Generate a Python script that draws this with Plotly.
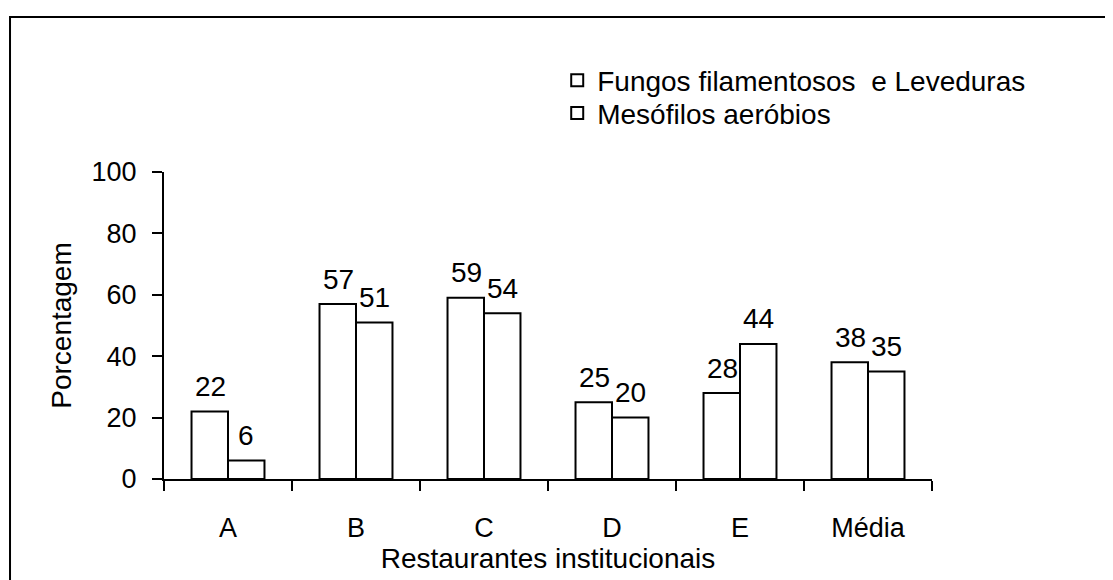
import plotly.graph_objects as go

# data
categories = ["A", "B", "C", "D", "E", "Média"]
fungos = [22, 57, 59, 25, 28, 38]
mesofilos = [6, 51, 54, 20, 44, 35]
series_names = ["Fungos filamentosos\u00a0 e Leveduras", "Mesófilos aeróbios"]
y_ticks = [0, 20, 40, 60, 80, 100]

FONT = "Liberation Sans, Arial, sans-serif"
FS = 28
BAR_OFFSET = 18  # half bar width in px, for label placement

fig = go.Figure()
for name, vals, leg in zip(series_names, [fungos, mesofilos], ["legend", "legend2"]):
    fig.add_trace(go.Bar(
        x=categories, y=vals, name=name, legend=leg,
        marker=dict(color="white", line=dict(color="black", width=2)),
    ))

# value labels above each bar
for shift, vals in [(-BAR_OFFSET, fungos), (BAR_OFFSET, mesofilos)]:
    for cat, v in zip(categories, vals):
        fig.add_annotation(
            x=cat, y=v, text=str(v), showarrow=False,
            xshift=shift, yshift=25, yanchor="middle",
            font=dict(family=FONT, size=FS, color="black"),
        )

# outer frame
fig.add_shape(
    type="rect", xref="paper", yref="paper",
    x0=-0.2005, x1=1.5, y0=-0.5, y1=1.505,
    line=dict(color="black", width=2), fillcolor="rgba(0,0,0,0)",
)

# one legend per row so the row spacing can match the original
leg_style = dict(xanchor="left", yanchor="top", font=dict(size=FS),
                 bgcolor="rgba(0,0,0,0)")

# page body has an 8px margin, so the figure is sized/shifted to compensate
fig.update_layout(
    width=1105, height=572,
    margin=dict(l=156, r=181, t=164, b=97),
    paper_bgcolor="white", plot_bgcolor="white",
    font=dict(family=FONT, size=FS, color="black"),
    barmode="group", bargap=0.43, bargroupgap=0,
    showlegend=True,
    legend=dict(x=0.512, y=1.379, **leg_style),
    legend2=dict(x=0.512, y=1.273, **leg_style),
)
fig.update_xaxes(
    range=[-0.5, 5.5], showline=True, linecolor="black", linewidth=2,
    ticks="outside", tickson="boundaries", ticklen=10, tickwidth=2,
    tickcolor="black", ticklabelstandoff=24, showgrid=False,
    tickfont=dict(size=27),
    title=dict(text="Restaurantes institucionais", standoff=5,
               font=dict(size=FS)),
)
fig.update_yaxes(
    range=[0, 100], tickvals=y_ticks, showline=True, linecolor="black",
    linewidth=2, ticks="outside", ticklen=10, tickwidth=2, tickcolor="black",
    ticklabelstandoff=10, showgrid=False, zeroline=False,
    tickfont=dict(size=27),
    title=dict(text="Porcentagem", standoff=12, font=dict(size=FS)),
)

fig.write_html("out.html")
